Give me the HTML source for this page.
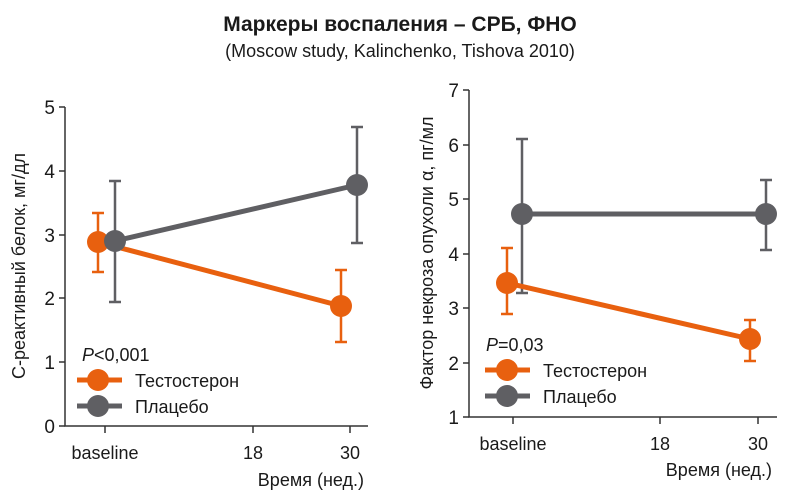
<!DOCTYPE html>
<html><head><meta charset="utf-8"><style>
body{margin:0;background:#fff}
svg text{font-family:"Liberation Sans",sans-serif;fill:#1a1a1a}
</style></head><body>
<svg width="800" height="497" viewBox="0 0 800 497" xmlns="http://www.w3.org/2000/svg">
<text x="400" y="31" text-anchor="middle" font-size="21" font-weight="bold">Маркеры воспаления – СРБ, ФНО</text>
<text x="400" y="57" text-anchor="middle" font-size="18">(Moscow study, Kalinchenko, Tishova 2010)</text>

<!-- Left chart -->
<g stroke="#333" stroke-width="1.5" fill="none">
<path d="M65,107V426H368"/>
<path d="M65,107h-6M65,171h-6M65,235h-6M65,298h-6M65,362h-6M65,426h-6"/>
<path d="M105,426v7M253,426v7M350,426v7"/>
</g>
<g font-size="19" text-anchor="end">
<text x="55" y="114">5</text><text x="55" y="178">4</text><text x="55" y="242">3</text>
<text x="55" y="305">2</text><text x="55" y="369">1</text><text x="55" y="433">0</text>
</g>
<g font-size="18" text-anchor="middle">
<text x="105" y="459">baseline</text><text x="253" y="459">18</text><text x="350" y="459">30</text>
</g>
<text x="364" y="486" font-size="18" text-anchor="end">Время (нед.)</text>
<text transform="translate(25,266) rotate(-90)" font-size="18" text-anchor="middle">С-реактивный белок, мг/дл</text>
<g stroke="#5f5f63" stroke-width="2.5" fill="none">
<path d="M115,302V181M109,302h12M109,181h12"/>
<path d="M357,243V127M351,243h12M351,127h12"/>
<path d="M115,241L357,185" stroke-width="5"/>
</g>
<g stroke="#e8600f" stroke-width="2.5" fill="none">
<path d="M98,272V213M92,272h12M92,213h12"/>
<path d="M341,342V270M335,342h12M335,270h12"/>
<path d="M98,242L341,306" stroke-width="5"/>
</g>
<circle cx="98" cy="242" r="11" fill="#e8600f"/>
<circle cx="115" cy="241" r="11" fill="#5f5f63"/>
<circle cx="357" cy="185" r="11" fill="#5f5f63"/>
<circle cx="341" cy="306" r="11" fill="#e8600f"/>
<text x="82" y="361" font-size="18"><tspan font-style="italic">P</tspan>&lt;0,001</text>
<path d="M77,380h45" stroke="#e8600f" stroke-width="5"/><circle cx="98" cy="380" r="11" fill="#e8600f"/>
<path d="M77,406h45" stroke="#5f5f63" stroke-width="5"/><circle cx="98" cy="406" r="11" fill="#5f5f63"/>
<text x="135" y="387" font-size="18">Тестостерон</text>
<text x="135" y="413" font-size="18">Плацебо</text>

<!-- Right chart -->
<g stroke="#333" stroke-width="1.5" fill="none">
<path d="M469,90V417H777"/>
<path d="M469,90h-6M469,145h-6M469,199h-6M469,254h-6M469,308h-6M469,363h-6M469,417h-6"/>
<path d="M513,417v7M660,417v7M758,417v7"/>
</g>
<g font-size="19" text-anchor="end">
<text x="459" y="97">7</text><text x="459" y="152">6</text><text x="459" y="206">5</text>
<text x="459" y="261">4</text><text x="459" y="315">3</text><text x="459" y="370">2</text><text x="459" y="424">1</text>
</g>
<g font-size="18" text-anchor="middle">
<text x="513" y="450">baseline</text><text x="660" y="450">18</text><text x="758" y="450">30</text>
</g>
<text x="772" y="476" font-size="18" text-anchor="end">Время (нед.)</text>
<text transform="translate(433,253) rotate(-90)" font-size="18" text-anchor="middle">Фактор некроза опухоли α, пг/мл</text>
<g stroke="#5f5f63" stroke-width="2.5" fill="none">
<path d="M522,293V139M516,293h12M516,139h12"/>
<path d="M766,250V180M760,250h12M760,180h12"/>
<path d="M522,214L766,214" stroke-width="5"/>
</g>
<g stroke="#e8600f" stroke-width="2.5" fill="none">
<path d="M507,314V248M501,314h12M501,248h12"/>
<path d="M750,361V320M744,361h12M744,320h12"/>
<path d="M507,283L750,339" stroke-width="5"/>
</g>
<circle cx="522" cy="214" r="11" fill="#5f5f63"/>
<circle cx="766" cy="214" r="11" fill="#5f5f63"/>
<circle cx="507" cy="283" r="11" fill="#e8600f"/>
<circle cx="750" cy="339" r="11" fill="#e8600f"/>
<text x="486" y="351" font-size="18"><tspan font-style="italic">P</tspan>=0,03</text>
<path d="M485,370h45" stroke="#e8600f" stroke-width="5"/><circle cx="507" cy="370" r="11" fill="#e8600f"/>
<path d="M485,396h45" stroke="#5f5f63" stroke-width="5"/><circle cx="507" cy="396" r="11" fill="#5f5f63"/>
<text x="543" y="377" font-size="18">Тестостерон</text>
<text x="543" y="403" font-size="18">Плацебо</text>
</svg>
</body></html>
